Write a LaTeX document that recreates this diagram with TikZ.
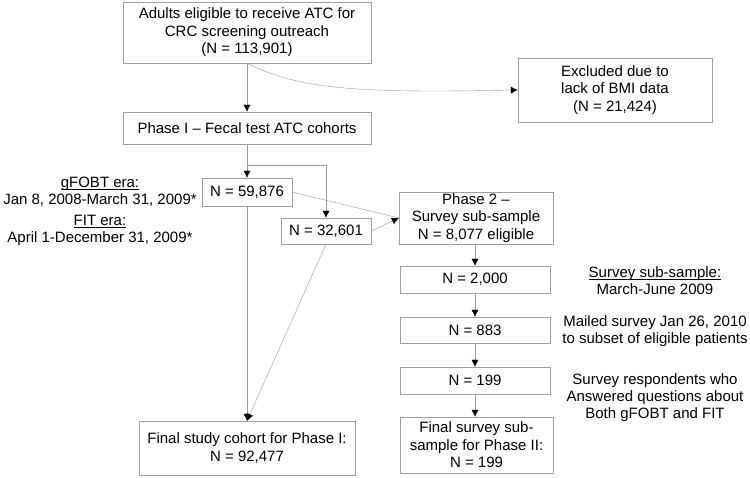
\documentclass[tikz,border=0pt]{standalone}
\usepackage{fontspec}
\setmainfont{Liberation Sans}
\usetikzlibrary{positioning,arrows.meta}
\newcommand{\ulabel}[1]{\setbox0\hbox{#1}\rlap{\rule[-2pt]{\wd0}{0.7pt}}\box0}
\tikzset{basic/.style={draw=gray!75,inner sep=0pt,align=center,font=\fontsize{15}{17.5}\selectfont}}
\tikzset{wide/.style={basic,minimum width=248pt}}
\tikzset{count/.style={basic,minimum width=90pt,minimum height=27pt}}
\tikzset{survey/.style={basic,minimum width=150pt,minimum height=27pt}}
\tikzset{note/.style={align=center,inner sep=0pt,font=\fontsize{15}{17}\selectfont}}
\tikzset{flow/.style={draw=gray!80,-{Latex[black,length=7pt,width=7pt]}}}
\tikzset{link/.style={draw=gray!80}}

\begin{document}
\begin{tikzpicture}[x=1pt,y=-1pt]
    \useasboundingbox (0,0) rectangle (750,478);

    \node[wide,minimum height=61pt] (adults) at (247,32.5) {Adults eligible to receive ATC for\\CRC screening outreach\\(N = 113,901)};
    \node[basic,minimum width=194pt,minimum height=64pt] (excl) at (615,90) {Excluded due to\\lack of BMI data\\(N = 21,424)};
        \path[flow] (adults.south) .. controls (300,90) and (360,93) .. (excl.west);
    \node[wide,minimum height=32pt] (phase1) at (247,128) {Phase I -- Fecal test ATC cohorts};
        \path[flow] (adults) -- (phase1);

    \node[count,minimum height=28pt] (gfobt) at (247,192) {N = 59,876};
    \node[count,minimum height=26pt] (fit) at (326,231) {N = 32,601};
    \coordinate (split) at (247,165);
        \path[flow] (phase1) -- (gfobt);
        \path[flow] (split) -| (fit);

    \node[note] (gera) at (100,191.5) {\ulabel{gFOBT era:}\\Jan 8, 2008-March 31, 2009*};
    \node[note] (fera) at (100,230.5) {\ulabel{FIT era:}\\April 1-December 31, 2009*};

    \node[basic,minimum width=154pt,minimum height=52pt] (phase2) at (476,218) {Phase 2 --\\Survey sub-sample\\N = 8,077 eligible};
        \path[link] (gfobt.east) -- (phase2.west);
        \path[flow] (fit.east) -- (phase2.west);

    \node[basic,minimum width=216pt,minimum height=54pt] (final1) at (247,448) {Final study cohort for Phase I:\\N = 92,477};
        \path[flow] (gfobt) -- (final1);
        \path[flow] (fit.south) -- (final1.north);

    \node[survey] (s2000) at (475,279.5) {N = 2,000};
    \node[survey,minimum height=26pt] (s883) at (475,330) {N = 883};
    \node[survey] (s199) at (475,380.5) {N = 199};
    \node[basic,minimum width=153pt,minimum height=56pt] (final2) at (476.5,445) {Final survey sub-\\sample for Phase II:\\N = 199};
        \path[flow] (s2000.north |- phase2.south) -- (s2000);
        \path[flow] (s2000) -- (s883);
        \path[flow] (s883) -- (s199);
        \path[flow] (s199) -- (s199 |- final2.north);

    \node[note] (sub) at (655,280.5) {\ulabel{Survey sub-sample:}\\March-June 2009};
    \node[note] (mail) at (655,331) {Mailed survey Jan 26, 2010\\to subset of eligible patients};
    \node[note] (resp) at (655,397.5) {Survey respondents who\\Answered questions about\\Both gFOBT and FIT};
\end{tikzpicture}
\end{document}
